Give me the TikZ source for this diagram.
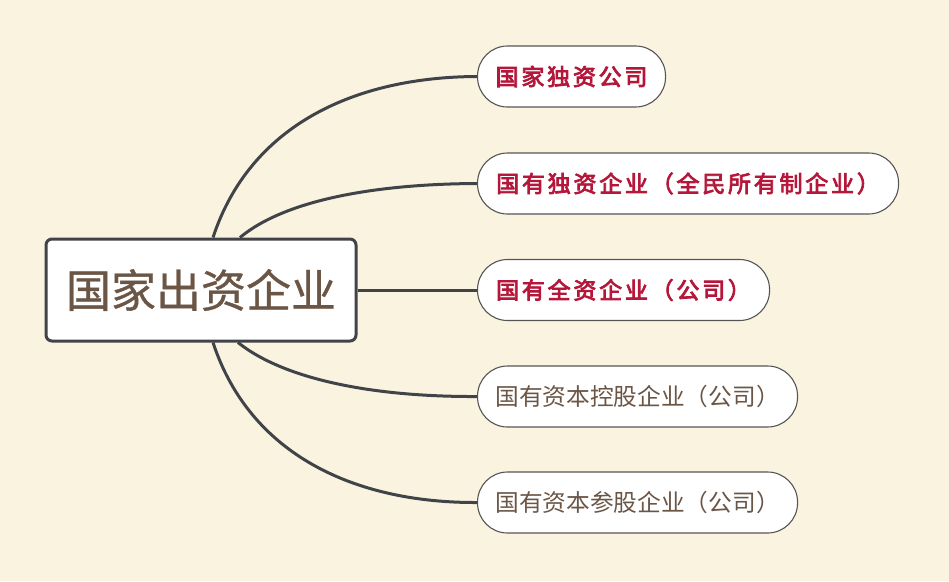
\documentclass[tikz,border=0pt]{standalone}
\usepackage{fontspec}
\usetikzlibrary{backgrounds}
\newfontfamily\cjk{Noto Sans CJK SC}
\newfontfamily\cjkm{Noto Sans CJK SC}[FakeBold=0.8]
\newfontfamily\cjkb{Noto Sans CJK SC}[FakeBold=3.5,LetterSpace=12]
\definecolor{bg}{HTML}{FAF3DF}
\definecolor{edge}{HTML}{404448}
\definecolor{leafline}{HTML}{555555}
\definecolor{redtxt}{HTML}{B5173A}
\definecolor{browntxt}{HTML}{6B5646}
\tikzset{
  mainbox/.style={draw=edge, line width=3pt, fill=white, rounded corners=6pt,
    minimum width=310pt, minimum height=102pt, inner sep=0pt,
    font=\cjkm\fontsize{45}{50}\selectfont, text=browntxt},
  leaf/.style={draw=leafline, line width=1.1pt, fill=white, rounded corners=30pt,
    minimum height=61pt, inner sep=0pt, anchor=west},
  leafred/.style={leaf, font=\cjkb\fontsize{23}{26}\selectfont, text=redtxt},
  leafbrown/.style={leaf, font=\cjk\fontsize{23.7}{26}\selectfont, text=browntxt},
  conn/.style={draw=edge, line width=3pt}
}
\begin{document}
\begin{tikzpicture}[x=1pt,y=-1pt]
\useasboundingbox (0,0) rectangle (949,581);
\node[mainbox] (main) at (201,290) {国家出资企业};
\node[leafred, minimum width=188pt] (l1) at (477,76.5) {国家独资公司};
\node[leafred, minimum width=421pt] (l2) at (477,183.5) {国有独资企业（全民所有制企业）};
\node[leafred, minimum width=292pt] (l3) at (477,290) {国有全资企业（公司）};
\node[leafbrown, minimum width=320pt] (l4) at (477,396.5) {国有资本控股企业（公司）};
\node[leafbrown, minimum width=320pt] (l5) at (477,502.5) {国有资本参股企业（公司）};
\coordinate (s1) at ([xshift=12pt]main.north);
\coordinate (s2) at ([xshift=39pt]main.north);
\coordinate (s4) at ([xshift=37pt]main.south);
\coordinate (s5) at ([xshift=12pt]main.south);
\begin{scope}[on background layer]
\fill[bg] (0,0) rectangle (949,581);
\draw[conn] (s1) .. controls (250,125) and (355,77) .. (l1.west);
\draw[conn] (s2) .. controls (285,200) and (375,184) .. (l2.west);
\draw[conn] (main.east) -- (l3.west);
\draw[conn] (s4) .. controls (285,380) and (375,397) .. (l4.west);
\draw[conn] (s5) .. controls (250,455) and (355,503) .. (l5.west);
\end{scope}
\end{tikzpicture}
\end{document}
